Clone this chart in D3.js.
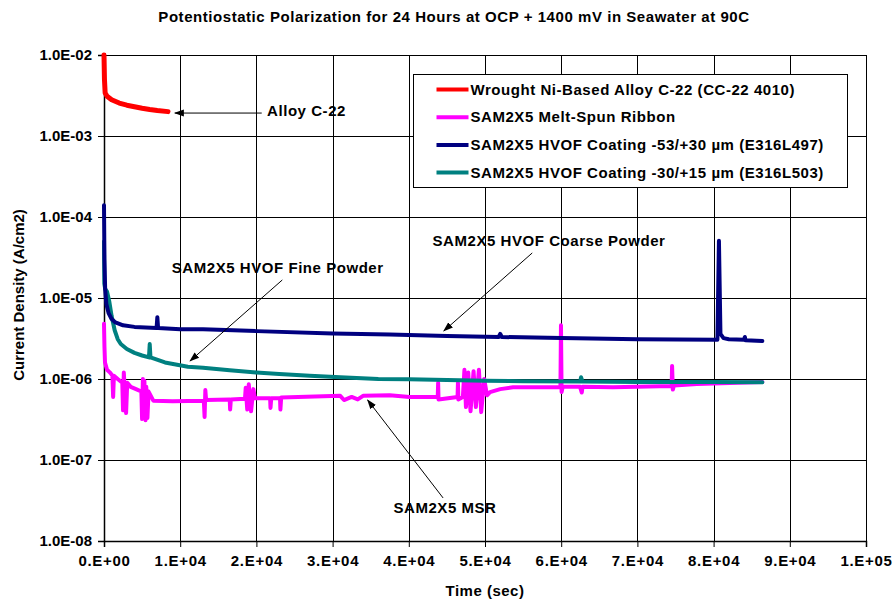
<!DOCTYPE html>
<html>
<head>
<meta charset="utf-8">
<script src="https://cdn.jsdelivr.net/npm/d3@7"></script>
<style>
  body { margin: 0; background: #fff; }
  svg text { font-family: "Liberation Sans", Arial, sans-serif; font-weight: bold; fill: #000; }
</style>
</head>
<body>
<div id="chart"></div>
<script>
// time (s), current density (A/cm2)
var c22 = [[0, 1e-2], [60, 5e-3], [150, 3.4e-3], [400, 3.1e-3], [1000, 2.8e-3], [2000, 2.55e-3],
  [3000, 2.4e-3], [4000, 2.3e-3], [5000, 2.2e-3], [6000, 2.12e-3], [7000, 2.06e-3], [8400, 2.0e-3]];

var ribbon = [[0, 4.8e-6], [60, 2.5e-6], [130, 1.6e-6], [400, 1.3e-6], [790, 1.2e-6], [1100, 1.1e-6],
  [1200, 6e-7], [1300, 1.1e-6], [1800, 1.0e-6], [2400, 9e-7], [2500, 4.1e-7], [2600, 1.2e-6],
  [2700, 8e-7], [2900, 3.8e-7], [3050, 9e-7], [3500, 8e-7], [4200, 7.5e-7], [4900, 7e-7],
  [5000, 3.2e-7], [5100, 1.0e-6], [5200, 3.5e-7], [5300, 9.5e-7], [5450, 3.1e-7], [5550, 8e-7],
  [5700, 3.3e-7], [5850, 7e-7], [6470, 5.4e-7], [9000, 5.3e-7], [13100, 5.4e-7], [13200, 3.4e-7],
  [13300, 7.3e-7], [13400, 5.5e-7], [16500, 5.6e-7], [16550, 4.2e-7], [16650, 5.6e-7],
  [18500, 5.7e-7], [18600, 7.8e-7], [18800, 4.2e-7], [19000, 8.6e-7], [19300, 4.0e-7],
  [19600, 7.5e-7], [19800, 5.8e-7], [21800, 5.8e-7], [21850, 4.4e-7], [21950, 5.8e-7],
  [23100, 5.8e-7], [23150, 4.2e-7], [23250, 5.9e-7], [31000, 6.2e-7], [31500, 5.5e-7],
  [32500, 6.0e-7], [33300, 5.6e-7], [34000, 6.2e-7], [37500, 6.3e-7], [40100, 6.0e-7],
  [43800, 6.0e-7], [43850, 9e-7], [43900, 5.6e-7], [46400, 6.0e-7], [46450, 9e-7], [46500, 5.6e-7],
  [47100, 6.0e-7], [47300, 1.3e-6], [47500, 4.5e-7], [47800, 1.2e-6], [48100, 4.0e-7],
  [48500, 1.25e-6], [48800, 4.5e-7], [49200, 1.3e-6], [49500, 3.9e-7], [49900, 1.0e-6],
  [50260, 6.3e-7], [50660, 6.9e-7], [52000, 7.5e-7], [53670, 7.9e-7], [58140, 7.9e-7],
  [59900, 7.9e-7], [59970, 4.6e-6], [60050, 6.9e-7], [60200, 8e-7], [62470, 8.0e-7],
  [62700, 6.8e-7], [62800, 8e-7], [66800, 7.9e-7], [74500, 8.2e-7], [74550, 1.45e-6],
  [74650, 7.4e-7], [74800, 8.3e-7], [77800, 8.7e-7], [86400, 9.2e-7]];

var coarse = [[0, 1.4e-4], [60, 3e-5], [150, 1.3e-5], [300, 8.5e-6], [600, 6.5e-6], [1000, 5.5e-6],
  [1500, 5.0e-6], [2500, 4.6e-6], [4000, 4.4e-6], [6900, 4.25e-6], [7000, 5.8e-6], [7100, 4.25e-6],
  [10000, 4.1e-6], [13000, 4.1e-6], [20000, 3.9e-6], [30000, 3.65e-6], [37500, 3.55e-6],
  [45000, 3.4e-6], [51800, 3.3e-6], [52000, 3.6e-6], [52200, 3.3e-6], [60000, 3.2e-6],
  [70000, 3.1e-6], [80500, 3.05e-6], [80700, 5.1e-5], [80900, 3.6e-6], [81300, 3.2e-6],
  [82000, 3.1e-6], [84000, 3.05e-6], [84100, 3.3e-6], [84200, 3.0e-6], [86400, 2.95e-6]];

var fine = [[0, 5e-5], [40, 1.5e-5], [150, 1.3e-5], [400, 1.2e-5], [700, 9e-6], [1000, 6e-6],
  [1400, 4e-6], [1800, 3.1e-6], [2200, 2.7e-6], [3000, 2.35e-6], [4000, 2.1e-6], [5000, 1.95e-6],
  [5900, 1.85e-6], [6000, 2.7e-6], [6100, 1.85e-6], [8000, 1.6e-6], [11000, 1.42e-6],
  [13000, 1.38e-6], [16500, 1.28e-6], [20000, 1.2e-6], [23000, 1.15e-6], [27000, 1.1e-6],
  [31000, 1.05e-6], [36000, 1.0e-6], [40000, 9.9e-7], [45000, 9.7e-7], [50000, 9.5e-7],
  [55000, 9.4e-7], [62500, 9.3e-7], [62600, 1.05e-6], [62800, 9.3e-7], [70000, 9.2e-7],
  [80000, 9.2e-7], [86400, 9.1e-7]];

var seriesNames = ["Wrought Ni-Based Alloy C-22 (CC-22 4010)", "SAM2X5 Melt-Spun Ribbon",
  "SAM2X5 HVOF Coating -53/+30 \u00b5m (E316L497)", "SAM2X5 HVOF Coating -30/+15 \u00b5m (E316L503)"];
var seriesColors = ["#ff0000", "#ff00ff", "#000080", "#008080"];

var xTicks = [0, 1e4, 2e4, 3e4, 4e4, 5e4, 6e4, 7e4, 8e4, 9e4, 1e5];
var xTickLabels = ["0.E+00", "1.E+04", "2.E+04", "3.E+04", "4.E+04", "5.E+04", "6.E+04", "7.E+04", "8.E+04", "9.E+04", "1.E+05"];
var yTicks = [1e-8, 1e-7, 1e-6, 1e-5, 1e-4, 1e-3, 1e-2];
var yTickLabels = ["1.0E-08", "1.0E-07", "1.0E-06", "1.0E-05", "1.0E-04", "1.0E-03", "1.0E-02"];

// annotations: text, label position, arrow tail, arrow head (in data units)
var notes = [
  { text: "Alloy C-22", at: [21400, 2.04e-3], anchor: "start", from: [20700, 1.92e-3], to: [9300, 1.92e-3] },
  { text: "SAM2X5 HVOF Fine Powder", at: [22800, 2.34e-5], anchor: "middle", from: [23400, 1.67e-5], to: [11300, 1.67e-6] },
  { text: "SAM2X5 HVOF Coarse Powder", at: [58400, 5.06e-5], anchor: "middle", from: [56200, 3.6e-5], to: [44600, 3.92e-6] },
  { text: "SAM2X5 MSR", at: [44750, 2.55e-8], anchor: "middle", from: [44500, 3.4e-8], to: [34600, 5.5e-7] }
];

var W = 894, H = 602;
var svg = d3.select("#chart").append("svg").attr("width", W).attr("height", H);

var x = d3.scaleLinear().domain([0, 1e5]).range([104, 866]);
var y = d3.scaleLog().domain([1e-8, 1e-2]).range([541, 55]);

// grid
svg.append("g").selectAll("line").data(yTicks).join("line")
  .attr("x1", x(0)).attr("x2", x(1e5))
  .attr("y1", d => Math.round(y(d)) + 0.5).attr("y2", d => Math.round(y(d)) + 0.5)
  .attr("stroke", "#000").attr("stroke-width", 1);
svg.append("g").selectAll("line").data(xTicks).join("line")
  .attr("x1", d => Math.round(x(d)) + 0.5).attr("x2", d => Math.round(x(d)) + 0.5)
  .attr("y1", y(1e-2)).attr("y2", y(1e-8))
  .attr("stroke", "#000").attr("stroke-width", 1);

// axes
var xAxis = d3.axisBottom(x).tickValues(xTicks).tickSize(6).tickPadding(8)
  .tickFormat((d, i) => xTickLabels[i]);
var yAxis = d3.axisLeft(y).tickValues(yTicks).tickSize(6).tickPadding(6)
  .tickFormat((d, i) => yTickLabels[i]);

var gx = svg.append("g").attr("transform", `translate(0,${y(1e-8)})`).call(xAxis);
var gy = svg.append("g").attr("transform", `translate(${x(0)},0)`).call(yAxis);
[gx, gy].forEach(g => {
  g.select(".domain").attr("stroke", "#000").attr("stroke-width", 1.5);
  g.selectAll(".tick line").attr("stroke", "#000");
  g.selectAll(".tick text").attr("font-size", 15).attr("font-family", null).attr("fill", "#000");
});
gx.selectAll(".tick text").attr("letter-spacing", 0.7);

// lines
var line = d3.line().x(d => x(d[0])).y(d => y(d[1]));
var allSeries = [c22, ribbon, coarse, fine];
var drawOrder = [1, 3, 2, 0];
drawOrder.forEach(i => {
  svg.append("path").datum(allSeries[i])
    .attr("d", line)
    .attr("fill", "none")
    .attr("stroke", seriesColors[i])
    .attr("stroke-width", i == 0 ? 5 : 4)
    .attr("stroke-linejoin", "round")
    .attr("stroke-linecap", "round");
});

// annotations
svg.append("defs").append("marker")
  .attr("id", "arrow").attr("viewBox", "0 0 10 10")
  .attr("refX", 9).attr("refY", 5)
  .attr("markerWidth", 10).attr("markerHeight", 10)
  .attr("markerUnits", "userSpaceOnUse")
  .attr("orient", "auto")
  .append("path").attr("d", "M0,1.5L10,5L0,8.5Z").attr("fill", "#000");

notes.forEach(n => {
  svg.append("line")
    .attr("x1", x(n.from[0])).attr("y1", y(n.from[1]))
    .attr("x2", x(n.to[0])).attr("y2", y(n.to[1]))
    .attr("stroke", "#000").attr("stroke-width", 1)
    .attr("marker-end", "url(#arrow)");
  svg.append("text")
    .attr("x", x(n.at[0])).attr("y", y(n.at[1]))
    .attr("text-anchor", n.anchor).attr("dy", "0.35em")
    .attr("font-size", 15).attr("letter-spacing", 0.55)
    .text(n.text);
});

// legend
var lg = svg.append("g").attr("transform", "translate(413.5,74.5)");
lg.append("rect").attr("width", 434).attr("height", 113)
  .attr("fill", "#fff").attr("stroke", "#000").attr("stroke-width", 1);
seriesNames.forEach((name, i) => {
  var yy = 15 + i * 27.7;
  lg.append("line").attr("x1", 23).attr("x2", 55).attr("y1", yy).attr("y2", yy)
    .attr("stroke", seriesColors[i]).attr("stroke-width", 4);
  lg.append("text").attr("x", 57).attr("y", yy).attr("dy", "0.35em")
    .attr("font-size", 15).attr("letter-spacing", 0.55).text(name);
});

// titles
svg.append("text").attr("x", 454).attr("y", 22).attr("text-anchor", "middle")
  .attr("font-size", 15).attr("letter-spacing", 0.55)
  .text("Potentiostatic Polarization for 24 Hours at OCP + 1400 mV in Seawater at 90C");
svg.append("text").attr("x", 485).attr("y", 596).attr("text-anchor", "middle")
  .attr("font-size", 15).attr("letter-spacing", 0.5).text("Time (sec)");
svg.append("text").attr("transform", "translate(24,295) rotate(-90)").attr("text-anchor", "middle")
  .attr("font-size", 15).text("Current Density (A/cm2)");
</script>
</body>
</html>
